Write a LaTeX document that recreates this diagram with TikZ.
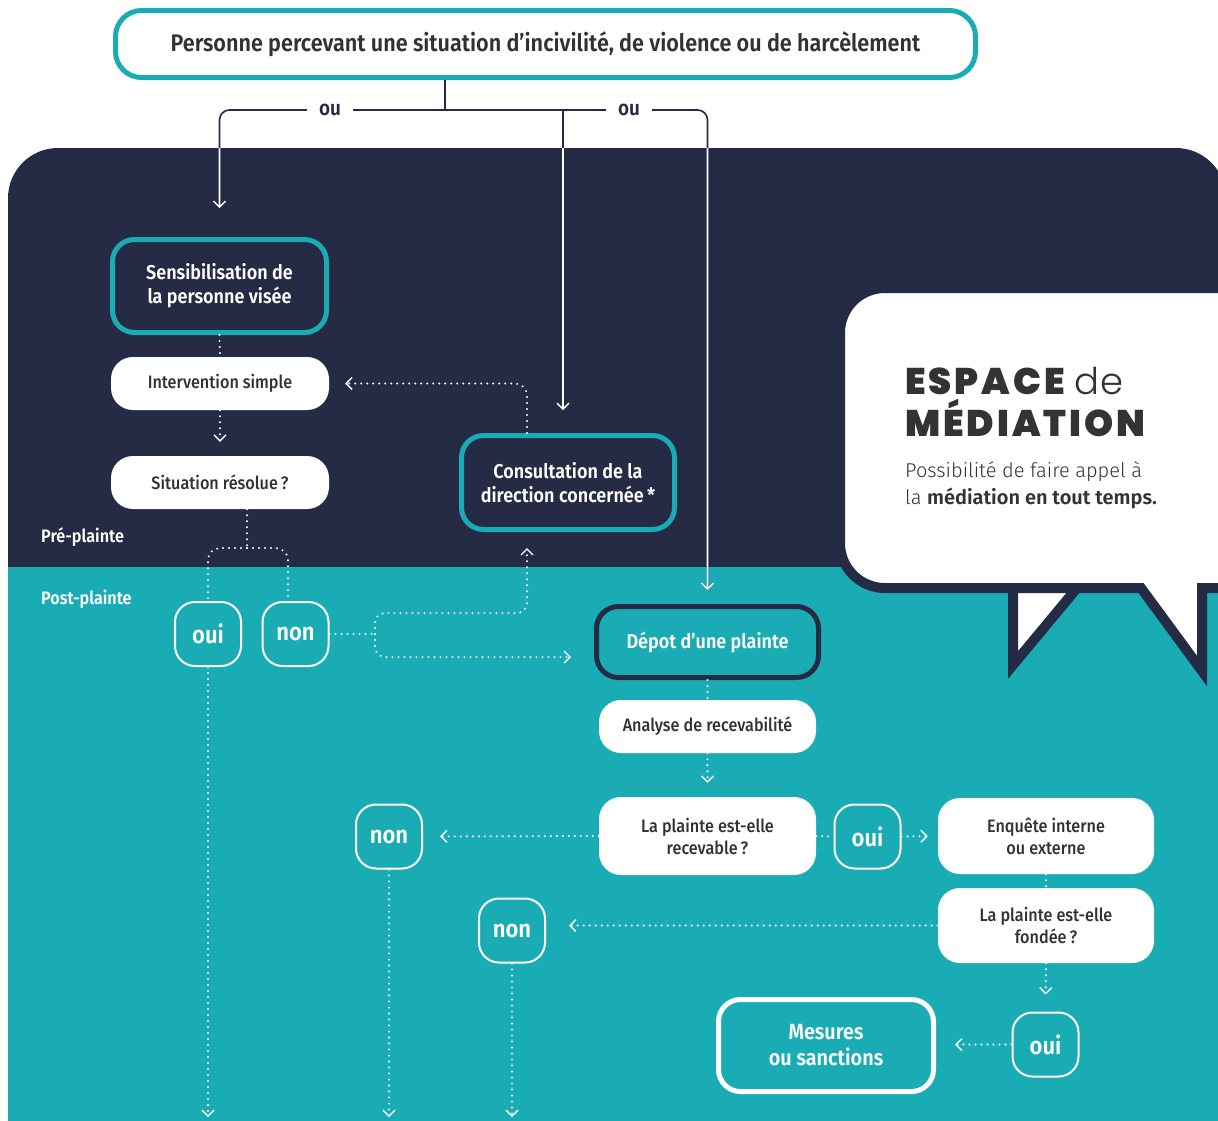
\documentclass[tikz,border=0pt]{standalone}
\usepackage{fontspec}
\setmainfont{Fira Sans}[FakeStretch=0.9, BoldFont={Fira Sans SemiBold}]
\newfontfamily\medium{Fira Sans Medium}[FakeStretch=0.9]
\newfontfamily\lightfira{Fira Sans Light}[BoldFont={Fira Sans SemiBold}]
\newfontfamily\headfont{Poppins Black}[LetterSpace=8]
\newfontfamily\headlight{Poppins Light}[LetterSpace=4]
\usetikzlibrary{arrows.meta, calc}

\definecolor{navy}{HTML}{262B45}
\definecolor{brandteal}{HTML}{19ACB4}
\definecolor{ink}{HTML}{2F3236}
\definecolor{headgray}{HTML}{333333}

\tikzset{
  basebox/.style={align=center, inner sep=0pt, rounded corners=22pt},
  topbox/.style={basebox, rounded corners=26pt, fill=white, draw=brandteal, line width=5pt,
    text=ink, font=\bfseries\fontsize{24}{28}\selectfont},
  whitebox/.style={basebox, fill=white, text=ink, font=\medium\fontsize{18}{22}\selectfont},
  darkbox/.style={basebox, fill=navy, draw=brandteal, line width=5pt, text=white,
    font=\bfseries\fontsize{20}{24}\selectfont},
  tealbox/.style={basebox, fill=brandteal, line width=5pt, text=white,
    font=\bfseries\fontsize{20}{26}\selectfont},
  choice/.style={draw=white, line width=2pt, rounded corners=20pt, inner sep=0pt,
    minimum width=66pt, minimum height=64pt, text=white,
    font=\bfseries\fontsize{24.5}{28}\selectfont},
  orlabel/.style={fill=white, text=navy, inner xsep=12pt, inner ysep=4pt,
    font=\bfseries\fontsize{21}{22}\selectfont},
  phase/.style={anchor=west, text=white, inner sep=0pt, font=\bfseries\fontsize{18}{20}\selectfont},
  bubbleline/.style={anchor=base west, inner sep=0pt, text=headgray},
  solidlink/.style={line width=1.6pt},
  dotlink/.style={white, line width=2.2pt, line cap=round, dash pattern=on 0pt off 6pt},
  arr/.style={-{Straight Barb[length=6pt, width=12pt, line width=1.4pt]}},
}

\begin{document}
\begin{tikzpicture}[x=1pt, y=-1pt]
\useasboundingbox (0,0) rectangle (1218,1120);
\fill[white] (0,0) rectangle (1218,1120);

% background panels: pre-complaint (dark) and post-complaint (teal)
\fill[navy, rounded corners=50pt] (8,640) -- (8,148) -- (1226,148) -- (1226,640) -- cycle;
\fill[brandteal] (8,567) rectangle (1226,1125);

% mediation speech bubble
\draw[navy, line width=10pt, fill=white, line join=miter]
  (1240,288) -- (885,288) .. controls (860,288) and (840,308) .. (840,333)
  -- (840,543) .. controls (840,568) and (860,588) .. (885,588)
  -- (1141,588) -- (1202,671) -- (1202,588) -- (1240,588);
\draw[navy, line width=10pt, fill=white, line join=miter]
  (1013,588) -- (1077,588) -- (1013,665) -- cycle;
\node[bubbleline, font=\headfont\fontsize{37}{40}\selectfont] (headA) at (905,394)
  {ESPACE {\headlight de}};
\node[bubbleline, font=\headfont\fontsize{37}{40}\selectfont] (headB) at (905,436)
  {MÉDIATION};
\node[bubbleline, font=\lightfira\fontsize{20}{27}\selectfont] (bubbleA) at (905,477)
  {Possibilité de faire appel à};
\node[bubbleline, font=\lightfira\fontsize{20}{27}\selectfont] (bubbleB) at (905,504)
  {la \textbf{médiation en tout temps.}};

% phase labels
\node[phase] (pre) at (41,537) {Pré-plainte};
\node[phase] (post) at (41,599) {Post-plainte};

% boxes
\node[topbox, minimum width=860pt, minimum height=67pt] (top) at (545.5,44)
  {Personne percevant une situation d’incivilité, de violence ou de harcèlement};
\node[darkbox, minimum width=214pt, minimum height=93pt] (sens) at (219.5,286)
  {Sensibilisation de\\la personne visée};
\node[whitebox, minimum width=218pt, minimum height=53pt] (interv) at (220,383.5)
  {Intervention simple};
\node[whitebox, minimum width=218pt, minimum height=53pt] (situ) at (220,482.5)
  {Situation résolue\,?};
\node[darkbox, minimum width=213pt, minimum height=94pt] (cons) at (568,482.5)
  {Consultation de la\\direction concernée\,*};
\node[choice] (oui1) at (208,634) {oui};
\node[choice] (non1) at (295.5,634) {non};
\node[tealbox, draw=navy, minimum width=222pt, minimum height=71pt] (depot) at (707.5,642)
  {Dépot d’une plainte};
\node[whitebox, minimum width=217pt, minimum height=53pt] (analyse) at (707.5,726.5)
  {Analyse de recevabilité};
\node[whitebox, minimum width=217pt, minimum height=78pt] (recev) at (707.5,836)
  {La plainte est-elle\\recevable\,?};
\node[choice] (non2) at (389,836.5) {non};
\node[choice] (oui2) at (867.5,836.5) {oui};
\node[whitebox, minimum width=216pt, minimum height=76pt] (enq) at (1046,836)
  {Enquête interne\\ou externe};
\node[whitebox, minimum width=216pt, minimum height=75pt] (fond) at (1046,925.5)
  {La plainte est-elle\\fondée\,?};
\node[choice] (non3) at (512,930.5) {non};
\node[choice] (oui3) at (1045.5,1044.5) {oui};
\node[tealbox, draw=white, minimum width=215pt, minimum height=92pt,
  font=\bfseries\fontsize{22}{26}\selectfont] (mes) at (826,1045.5)
  {Mesures\\ou sanctions};

% entry connectors from the top box
\coordinate (j0) at (445,110);
\coordinate (j1) at (563,110);
\newcommand\entrylinks[1]{%
  \draw[solidlink, #1] (top.south -| j0) -- (j0);
  \draw[solidlink, #1, arr, rounded corners=10pt, shorten >=29pt] (j0) -| (sens.north);
  \draw[solidlink, #1, arr, shorten >=23pt] (j1) -- (j1 |- cons.north);
  \draw[solidlink, #1, arr, rounded corners=10pt, shorten >=14pt] (j0) -| (depot.north);
}
\entrylinks{navy}
\begin{scope}
  \clip (0,148) rectangle (1218,1120);
  \entrylinks{white}
\end{scope}
\node[orlabel] (or1) at (330,110) {ou};
\node[orlabel] (or2) at (629,110) {ou};

% dotted flow inside the process
\draw[dotlink] (sens.south) -- (interv.north);
\draw[dotlink, arr, shorten >=14pt] (interv.south) -- (situ.north);

\coordinate (split) at (247,548);
\coordinate (nonin) at (288,601);
\draw[dotlink] (situ.south -| split) -- (split);
\draw[dotlink, rounded corners=12pt] (split) -| (oui1.north);
\draw[dotlink, rounded corners=12pt] (split) -| (nonin);

\coordinate (fork) at (375,634);
\coordinate (consin) at (527,532);
\draw[dotlink] (non1.east) -- (fork);
\draw[dotlink, arr, rounded corners=10pt, shorten >=16pt] (fork) |- (527,613) -- (consin);
\draw[dotlink, arr, rounded corners=10pt, shorten >=23pt] (fork) |- (depot.west |- 0,657);

\coordinate (consout) at (527,433);
\draw[dotlink, arr, rounded corners=12pt, shorten >=16pt] (consout) |- (interv.east);

\draw[dotlink] (depot.south) -- (analyse.north);
\draw[dotlink, arr, shorten >=14pt] (analyse.south) -- (recev.north);
\draw[dotlink, arr, shorten >=17pt] (recev.west) -- (non2.east);
\draw[dotlink] (recev.east) -- (oui2.west);
\draw[dotlink, arr, shorten >=10pt] (oui2.east) -- (enq.west);
\draw[dotlink] (enq.south) -- (fond.north);
\draw[dotlink, arr, shorten >=23pt] (fond.west) -- (non3.east |- fond.west);
\draw[dotlink, arr, shorten >=17pt] (fond.south) -- (oui3.north);
\draw[dotlink, arr, shorten >=19pt] (oui3.west) -- (mes.east |- oui3.west);

\coordinate (exit1) at (208,1117);
\coordinate (exit2) at (389,1117);
\coordinate (exit3) at (512,1117);
\draw[dotlink, arr] (oui1.south) -- (exit1);
\draw[dotlink, arr] (non2.south) -- (exit2);
\draw[dotlink, arr] (non3.south) -- (exit3);
\end{tikzpicture}
\end{document}
